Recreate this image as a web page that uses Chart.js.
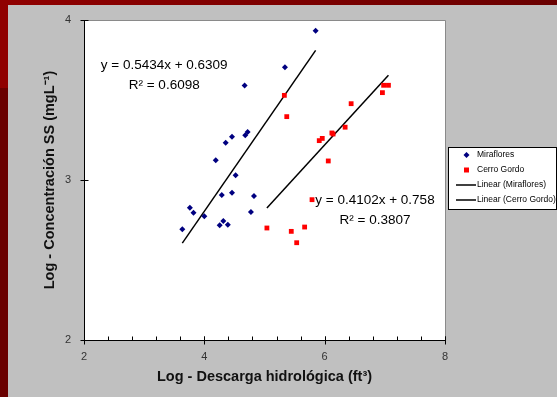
<!DOCTYPE html>
<html>
<head>
<meta charset="utf-8">
<script src="https://cdn.jsdelivr.net/npm/chart.js@4/dist/chart.umd.min.js"></script>
<style>
  html, body { margin: 0; padding: 0; }
  #frame { position: relative; width: 557px; height: 397px; background: #6a0000; overflow: hidden; }
  #band { position: absolute; left: 0; top: 0; width: 557px; height: 5px; background: linear-gradient(to right, #900000, #6a0000); }
  #corner { position: absolute; left: 0; top: 0; width: 8px; height: 88px; background: #900000; }
  #panel { position: absolute; left: 8px; top: 5px; right: 0; bottom: 0; background: #c0c0c0; }
  #c { position: absolute; left: 0; top: 0; }
</style>
</head>
<body>
<div id="frame">
  <div id="band"></div>
  <div id="corner"></div>
  <div id="panel"></div>
  <canvas id="c" width="557" height="397"></canvas>
</div>
<script>
// Station names
const seriesNames = ['Miraflores', 'Cerro Gordo'];

// Miraflores: log discharge (x) vs log suspended-solids concentration (y)
const mirafloresX = [5.85, 5.34, 4.67, 4.72, 4.68, 4.46, 4.355, 4.19, 4.52, 4.29,
                     4.46, 4.825, 3.76, 3.82, 4.00, 4.775, 4.315, 4.255, 4.39, 3.634];
const mirafloresY = [3.933, 3.704, 3.59, 3.30, 3.279, 3.27, 3.233, 3.123, 3.03, 2.906,
                     2.92, 2.90, 2.827, 2.796, 2.773, 2.80, 2.744, 2.717, 2.72, 2.692];

// Cerro Gordo
const cerroX = [5.33, 5.37, 6.98, 7.06, 6.96, 6.44, 6.34, 6.14, 6.12, 5.96,
                5.91, 6.06, 5.79, 5.04, 5.445, 5.667, 5.535];
const cerroY = [3.529, 3.396, 3.592, 3.592, 3.546, 3.477, 3.33, 3.2875, 3.294, 3.26,
                3.246, 3.119, 2.877, 2.70, 2.679, 2.706, 2.608];

// Linear fits (y = slope * x + intercept) and their R²
const fitSlopes = [0.5434, 0.4102];
const fitIntercepts = [0.6309, 0.758];
const fitR2 = [0.6098, 0.3807];

// Axis ticks
const xTicks = [2, 4, 6, 8];
const yTicks = [2, 3, 4];

const toPoints = (xs, ys) => xs.map((x, i) => ({ x: x, y: ys[i] }));
function fitLine(xs, k) {
  const lo = Math.min(...xs), hi = Math.max(...xs);
  return [lo, hi].map(x => ({ x: x, y: fitSlopes[k] * x + fitIntercepts[k] }));
}

const FONT = '"Liberation Sans", Arial, sans-serif';

// Plot background, axes with crossing tick marks, minor ticks on x
const framePlugin = {
  id: 'frame',
  beforeDatasetsDraw(chart) {
    const { ctx, chartArea: a } = chart;
    ctx.save();
    ctx.fillStyle = '#ffffff';
    ctx.fillRect(a.left, a.top, a.right - a.left, a.bottom - a.top);
    ctx.strokeStyle = '#8a8a8a';
    ctx.lineWidth = 1;
    ctx.beginPath();
    ctx.moveTo(a.left, a.top + 0.5); ctx.lineTo(a.right + 0.5, a.top + 0.5);
    ctx.lineTo(a.right + 0.5, a.bottom);
    ctx.stroke();
    ctx.restore();
  },
  afterDatasetsDraw(chart) {
    const { ctx, chartArea: a, scales } = chart;
    const xs = scales.x, ys = scales.y;
    ctx.save();
    ctx.strokeStyle = '#000000';
    ctx.lineWidth = 1;
    ctx.beginPath();
    const lx = Math.round(a.left) + 0.5, by = Math.round(a.bottom) + 0.5;
    ctx.moveTo(lx, a.top); ctx.lineTo(lx, by);
    ctx.lineTo(a.right, by);
    yTicks.forEach(v => {
      const py = Math.round(ys.getPixelForValue(v)) + 0.5;
      ctx.moveTo(lx - 4, py); ctx.lineTo(lx + 4, py);
    });
    xTicks.forEach(v => {
      const px = Math.round(xs.getPixelForValue(v)) + 0.5;
      ctx.moveTo(px, by - 4); ctx.lineTo(px, by + 4);
    });
    for (let i = 0; i <= 15; i++) {
      const v = xs.min + i * 0.4;
      const px = Math.round(xs.getPixelForValue(v)) + 0.5;
      ctx.moveTo(px, by - 4); ctx.lineTo(px, by);
    }
    ctx.stroke();
    ctx.restore();
  }
};

// Regression equations written near each fit line
const equationPlugin = {
  id: 'equations',
  afterDatasetsDraw(chart, args, opts) {
    const { ctx, scales } = chart;
    ctx.save();
    ctx.fillStyle = '#000000';
    ctx.font = '13.5px ' + FONT;
    ctx.textAlign = 'center';
    ctx.textBaseline = 'middle';
    opts.anchors.forEach((p, k) => {
      const cx = scales.x.getPixelForValue(p.x);
      const cy = scales.y.getPixelForValue(p.y);
      ctx.fillText('y = ' + fitSlopes[k] + 'x + ' + fitIntercepts[k], cx, cy);
      ctx.fillText('R\u00B2 = ' + fitR2[k], cx, cy + 20);
    });
    ctx.restore();
  }
};

// Boxed legend at the right edge
const legendPlugin = {
  id: 'boxLegend',
  afterDraw(chart, args, opts) {
    const { ctx } = chart;
    const b = opts.box;
    ctx.save();
    ctx.fillStyle = '#ffffff';
    ctx.fillRect(b.x, b.y, b.w, b.h);
    ctx.strokeStyle = '#000000';
    ctx.lineWidth = 1;
    ctx.strokeRect(b.x + 0.5, b.y + 0.5, b.w - 1, b.h - 1);
    ctx.font = '8.5px ' + FONT;
    ctx.textBaseline = 'middle';
    ctx.textAlign = 'left';
    chart.data.datasets.forEach((ds, i) => {
      const y = b.y + 8 + i * 15;
      if (ds.showLine) {
        ctx.strokeStyle = '#000000';
        ctx.lineWidth = 1.5;
        ctx.beginPath();
        ctx.moveTo(b.x + 8, y); ctx.lineTo(b.x + 28, y);
        ctx.stroke();
      } else {
        ctx.fillStyle = ds.backgroundColor;
        ctx.beginPath();
        if (ds.pointStyle === 'rectRot') {
          ctx.moveTo(b.x + 18.5, y - 3); ctx.lineTo(b.x + 21.5, y);
          ctx.lineTo(b.x + 18.5, y + 3); ctx.lineTo(b.x + 15.5, y);
          ctx.closePath();
        } else {
          ctx.rect(b.x + 16, y - 2.5, 5, 5);
        }
        ctx.fill();
      }
      ctx.fillStyle = '#000000';
      ctx.fillText(ds.label, b.x + 29, y);
    });
    ctx.restore();
  }
};

new Chart(document.getElementById('c'), {
  type: 'scatter',
  data: {
    datasets: [
      { label: seriesNames[0], data: toPoints(mirafloresX, mirafloresY),
        pointStyle: 'rectRot', pointRadius: 3, pointHoverRadius: 3,
        backgroundColor: '#000080', borderColor: '#000080', borderWidth: 0 },
      { label: seriesNames[1], data: toPoints(cerroX, cerroY),
        pointStyle: 'rect', pointRadius: 3.4, pointHoverRadius: 3.4,
        backgroundColor: '#ff0000', borderColor: '#ff0000', borderWidth: 0 },
      { label: 'Linear (' + seriesNames[0] + ')', data: fitLine(mirafloresX, 0),
        showLine: true, pointRadius: 0, borderColor: '#000000', borderWidth: 1.5, fill: false },
      { label: 'Linear (' + seriesNames[1] + ')', data: fitLine(cerroX, 1),
        showLine: true, pointRadius: 0, borderColor: '#000000', borderWidth: 1.5, fill: false }
    ]
  },
  options: {
    responsive: false,
    animation: false,
    events: [],
    layout: { padding: { left: 37, right: 112, top: 20, bottom: 7 } },
    plugins: {
      legend: { display: false },
      tooltip: { enabled: false },
      equations: { anchors: [ { x: 3.333, y: 3.72 }, { x: 6.836, y: 2.875 } ] },
      boxLegend: { box: { x: 448, y: 147, w: 109, h: 63 } }
    },
    scales: {
      x: {
        type: 'linear', min: 2, max: 8,
        afterFit: s => { s.height = 50; },
        afterBuildTicks: s => { s.ticks = xTicks.map(v => ({ value: v })); },
        ticks: { font: { family: FONT, size: 11 }, color: '#333333', padding: 10 },
        grid: { display: false, drawTicks: false },
        border: { display: false },
        title: { display: true, text: 'Log - Descarga hidrológica (ft\u00B3)',
                 font: { family: FONT, size: 14.5, weight: 'bold' }, color: '#111111' }
      },
      y: {
        type: 'linear', min: 2, max: 4,
        afterFit: s => { s.width = 47; },
        afterBuildTicks: s => { s.ticks = yTicks.map(v => ({ value: v })); },
        ticks: { font: { family: FONT, size: 11 }, color: '#333333', padding: 13 },
        grid: { display: false, drawTicks: false },
        border: { display: false },
        title: { display: true, text: 'Log - Concentración SS (mgL\u207B\u00B9)',
                 font: { family: FONT, size: 14.5, weight: 'bold' }, color: '#111111' }
      }
    }
  },
  plugins: [framePlugin, equationPlugin, legendPlugin]
});
</script>
</body>
</html>
